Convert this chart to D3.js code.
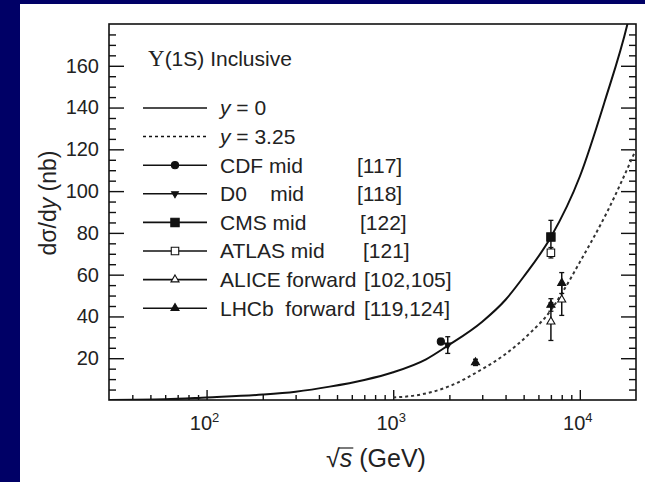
<!DOCTYPE html>
<html>
<head>
<meta charset="utf-8">
<script src="https://cdn.jsdelivr.net/npm/d3@7/dist/d3.min.js"></script>
<style>
  html, body { margin: 0; padding: 0; background: #fff; }
  svg { display: block; }
  text { font-family: "Liberation Sans", Arial, Helvetica, sans-serif; fill: #222; }
</style>
</head>
<body>
<svg id="chart" width="645" height="482"></svg>
<script>
// Υ(1S) inclusive production: dσ/dy versus √s, model curves and measurements

// Model curve at mid-rapidity (y = 0)
const midEnergies = [30, 60, 100, 200, 300, 457, 700, 1000, 1500, 1960, 3000, 4000, 5000, 7000, 10000, 13600, 18000, 20000];
const midValues   = [0, 0.3, 1.2, 2.6, 4.0, 6.4, 9.6, 13.3, 19.5, 26, 37.5, 48, 59, 78, 107, 143, 180, 198];

// Model curve at forward rapidity (y = 3.25)
const fwdEnergies = [1000, 1400, 2000, 2900, 4000, 5400, 7000, 8000, 10000, 14000, 20000];
const fwdValues   = [1.2, 2.6, 6.6, 14, 22, 32, 43, 51, 66, 90, 120];

// Measurements (√s in GeV, dσ/dy in nb, uncertainty in nb)
const cdfS   = [1800];            const cdfV   = [28];          const cdfE   = [1.5];
const d0S    = [1960];            const d0V    = [26.3];        const d0E    = [4];
const cmsS   = [7000];            const cmsV   = [78];          const cmsE   = [8];
const atlasS = [7000];            const atlasV = [70.5];        const atlasE = [2.5];
const aliceS = [7000, 8000];      const aliceV = [37.5, 48];    const aliceE = [9, 7.5];
const lhcbS  = [2760, 7000, 8000]; const lhcbV = [18, 45.5, 56]; const lhcbE = [1.5, 3, 5];

// Axis ticks
const yMajorTicks = [20, 40, 60, 80, 100, 120, 140, 160];
const yMinorTicks = [5, 10, 15, 25, 30, 35, 45, 50, 55, 65, 70, 75, 85, 90, 95, 105, 110, 115, 125, 130, 135, 145, 150, 155, 165, 170, 175];
const xMajorTicks = [100, 1000, 10000];
const xTickExponents = ["2", "3", "4"];
const xMinorTicks = [40, 50, 60, 70, 80, 90, 200, 300, 400, 500, 600, 700, 800, 900,
                     2000, 3000, 4000, 5000, 6000, 7000, 8000, 9000];

// Legend entries
const seriesNames = ["CDF mid", "D0    mid", "CMS mid", "ATLAS mid", "ALICE forward", "LHCb  forward"];
const seriesRefs  = ["[117]", "[118]", "[122]", "[121]", "[102,105]", "[119,124]"];

// ---- layout ----
const W = 645, H = 482;
const plotL = 109, plotR = 636, plotT = 24, plotB = 400;
const refX = [357, 357, 360, 363, 364, 364];
const legendFont = 21;

const svg = d3.select("#chart");

// page background
svg.append("rect").attr("x", 0).attr("y", 0).attr("width", W).attr("height", H).attr("fill", "#000066");
svg.append("rect").attr("x", 20).attr("y", 4).attr("width", W - 20).attr("height", H - 4).attr("fill", "#fff");

const x = d3.scaleLog().domain([30, 20000]).range([plotL, plotR]);
const y = d3.scaleLinear().domain([0, 180]).range([plotB, plotT]);

const clip = svg.append("clipPath").attr("id", "plotclip");
clip.append("rect").attr("x", plotL).attr("y", plotT).attr("width", plotR - plotL).attr("height", plotB - plotT);

const ink = "#111";

// ---- axes ----
function styleAxis(g) {
  g.select(".domain").remove();
  g.selectAll(".tick line").attr("stroke", ink).attr("stroke-width", 1.4);
}

svg.append("g").attr("transform", `translate(${plotL},0)`)
  .call(d3.axisLeft(y).tickValues(yMajorTicks).tickSize(-15).tickPadding(10).tickFormat(d3.format("d")))
  .call(styleAxis)
  .call(g => g.selectAll("text").attr("font-size", 20).attr("fill", "#222"))
  .attr("font-family", null).attr("font-size", null);

svg.append("g").attr("transform", `translate(${plotL},0)`)
  .call(d3.axisLeft(y).tickValues(yMinorTicks).tickSize(-7).tickFormat(""))
  .call(styleAxis);

svg.append("g").attr("transform", `translate(${plotR},0)`)
  .call(d3.axisRight(y).tickValues(yMajorTicks).tickSize(-15).tickFormat(""))
  .call(styleAxis);

svg.append("g").attr("transform", `translate(${plotR},0)`)
  .call(d3.axisRight(y).tickValues(yMinorTicks).tickSize(-7).tickFormat(""))
  .call(styleAxis);

svg.append("g").attr("transform", `translate(0,${plotB})`)
  .call(d3.axisBottom(x).tickValues(xMajorTicks).tickSize(-10).tickFormat(""))
  .call(styleAxis);

svg.append("g").attr("transform", `translate(0,${plotB})`)
  .call(d3.axisBottom(x).tickValues(xMinorTicks).tickSize(-5).tickFormat(""))
  .call(styleAxis);

// x tick labels as powers of ten
const xl = svg.append("g").selectAll("text").data(xMajorTicks).join("text")
  .attr("x", d => x(d) - 2)
  .attr("y", 430)
  .attr("text-anchor", "middle")
  .attr("font-size", 20);
xl.append("tspan").text("10");
xl.append("tspan").attr("dy", -8).attr("font-size", 13).text((d, i) => xTickExponents[i]);

// frame
svg.append("rect").attr("x", plotL).attr("y", plotT).attr("width", plotR - plotL).attr("height", plotB - plotT)
  .attr("fill", "none").attr("stroke", ink).attr("stroke-width", 1.6);

// ---- model curves ----
const line = d3.line().x(d => x(d[0])).y(d => y(d[1])).curve(d3.curveMonotoneX);
const plot = svg.append("g").attr("clip-path", "url(#plotclip)");

plot.append("path")
  .attr("d", line(midEnergies.map((e, i) => [e, midValues[i]])))
  .attr("fill", "none").attr("stroke", ink).attr("stroke-width", 2);

plot.append("path")
  .attr("d", line(fwdEnergies.map((e, i) => [e, fwdValues[i]])))
  .attr("fill", "none").attr("stroke", "#333").attr("stroke-width", 2)
  .attr("stroke-dasharray", "3,3");

// ---- measurements ----
const series = [
  { s: cdfS,   v: cdfV,   e: cdfE,   sym: d3.symbolCircle,   size: 40, fill: ink,   rot: 0 },
  { s: d0S,    v: d0V,    e: d0E,    sym: d3.symbolTriangle, size: 20, fill: ink,   rot: 180 },
  { s: cmsS,   v: cmsV,   e: cmsE,   sym: d3.symbolSquare,   size: 70, fill: ink,   rot: 0 },
  { s: atlasS, v: atlasV, e: atlasE, sym: d3.symbolSquare,   size: 56, fill: "#fff", rot: 0 },
  { s: aliceS, v: aliceV, e: aliceE, sym: d3.symbolTriangle, size: 28, fill: "#fff", rot: 0 },
  { s: lhcbS,  v: lhcbV,  e: lhcbE,  sym: d3.symbolTriangle, size: 28, fill: ink,   rot: 0 }
];

series.forEach(sr => {
  const pts = sr.s.map((s, i) => ({ s, v: sr.v[i], e: sr.e[i] }));
  const g = plot.append("g");
  g.selectAll("line.bar").data(pts).join("line").attr("class", "bar")
    .attr("x1", d => x(d.s)).attr("x2", d => x(d.s))
    .attr("y1", d => y(d.v - d.e)).attr("y2", d => y(d.v + d.e))
    .attr("stroke", ink).attr("stroke-width", 1.5);
  [-1, 1].forEach(sign => {
    g.selectAll(null).data(pts).join("line")
      .attr("x1", d => x(d.s) - 2.5).attr("x2", d => x(d.s) + 2.5)
      .attr("y1", d => y(d.v + sign * d.e)).attr("y2", d => y(d.v + sign * d.e))
      .attr("stroke", ink).attr("stroke-width", 1.3);
  });
  g.selectAll("path").data(pts).join("path")
    .attr("d", d3.symbol(sr.sym, sr.size))
    .attr("transform", d => `translate(${x(d.s)},${y(d.v)}) rotate(${sr.rot})`)
    .attr("fill", sr.fill).attr("stroke", ink).attr("stroke-width", 1.1);
});

// ---- legend ----
svg.append("text").attr("x", 148).attr("y", 59).attr("dy", "0.35em").attr("font-size", legendFont)
  .call(t => {
    t.append("tspan").attr("font-family", "'Liberation Serif', 'DejaVu Serif', serif").attr("font-size", 23).text("Υ");
    t.append("tspan").text("(1S) Inclusive");
  });

const rowY = i => 108 + i * 28.6;
const lx1 = 143, lx2 = 207, lmid = 175, tx = 220;

// curve entries
svg.append("line").attr("x1", lx1).attr("x2", lx2).attr("y1", rowY(0)).attr("y2", rowY(0))
  .attr("stroke", ink).attr("stroke-width", 1.3);
svg.append("line").attr("x1", lx1).attr("x2", lx2).attr("y1", rowY(1)).attr("y2", rowY(1))
  .attr("stroke", ink).attr("stroke-width", 1.5).attr("stroke-dasharray", "3,3");
[["0", 0], ["3.25", 1]].forEach(([val, r]) => {
  const t = svg.append("text").attr("x", tx).attr("y", rowY(r)).attr("dy", "0.35em").attr("font-size", legendFont);
  t.append("tspan").attr("font-style", "italic").text("y");
  t.append("tspan").text(" = " + val);
});

series.forEach((sr, i) => {
  const ry = rowY(i + 2);
  svg.append("line").attr("x1", lx1).attr("x2", lx2).attr("y1", ry).attr("y2", ry)
    .attr("stroke", ink).attr("stroke-width", 1.6);
  svg.append("path").attr("d", d3.symbol(sr.sym, sr.size))
    .attr("transform", `translate(${lmid},${ry}) rotate(${sr.rot})`)
    .attr("fill", sr.fill).attr("stroke", ink).attr("stroke-width", 1.1);
  svg.append("text").attr("x", tx).attr("y", ry).attr("dy", "0.35em").attr("font-size", legendFont)
    .style("white-space", "pre").text(seriesNames[i]);
  svg.append("text").attr("x", refX[i]).attr("y", ry).attr("dy", "0.35em").attr("font-size", legendFont)
    .text(seriesRefs[i]);
});

// ---- axis titles ----
const yt = svg.append("text")
  .attr("transform", "translate(56,203) rotate(-90)")
  .attr("text-anchor", "middle").attr("font-size", 23);
yt.append("tspan").text("dσ/d");
yt.append("tspan").attr("font-style", "italic").text("y");
yt.append("tspan").text(" (nb)");

const xt = svg.append("text").attr("x", 376).attr("y", 467).attr("text-anchor", "middle").attr("font-size", 25);
xt.append("tspan").text("√");
xt.append("tspan").attr("font-style", "italic").text("s");
xt.append("tspan").text(" (GeV)");
const n = xt.node();
const sStart = n.getStartPositionOfChar(1), sEnd = n.getEndPositionOfChar(1);
svg.append("line")
  .attr("x1", sStart.x - 1).attr("x2", sEnd.x + 1)
  .attr("y1", 467 - 19).attr("y2", 467 - 19)
  .attr("stroke", "#222").attr("stroke-width", 1.2);
</script>
</body>
</html>
